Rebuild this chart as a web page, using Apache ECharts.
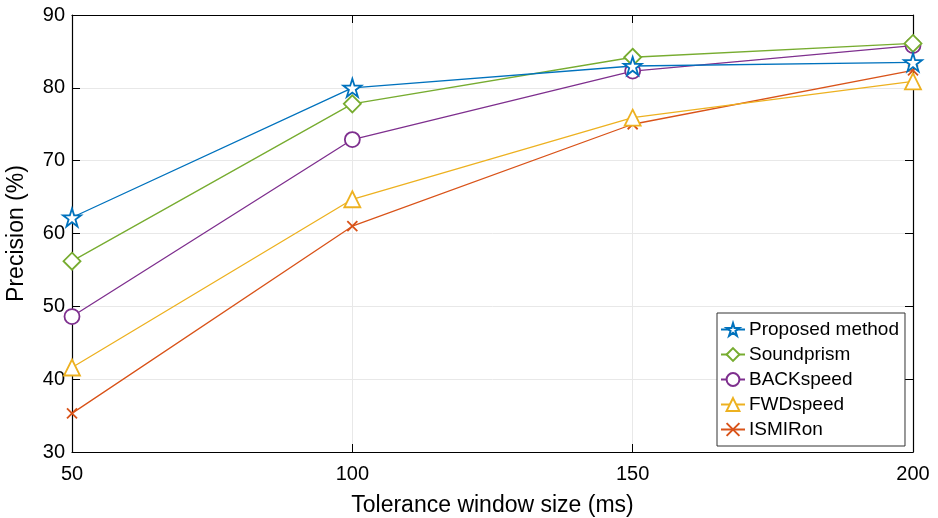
<!DOCTYPE html>
<html>
<head>
<meta charset="utf-8">
<script src="https://cdn.jsdelivr.net/npm/echarts@6/dist/echarts.min.js"></script>
<style>
  html, body { margin: 0; padding: 0; background: #fff; }
  #chart { width: 938px; height: 518px; }
</style>
</head>
<body>
<div id="chart"></div>
<script>
// data
const windowSizes = [50, 100, 150, 200]
const proposed = [62.2, 80.0, 83.0, 83.5]
const soundprism = [56.2, 77.8, 84.2, 86.1]
const backSpeed = [48.6, 72.9, 82.3, 85.8]
const fwdSpeed = [41.6, 64.7, 75.9, 80.9]
const ismiron = [35.3, 61.0, 75.0, 82.4]

const STAR = 'path://M50,0 L61.8,36.2 L100,36.2 L69.1,58.6 L80.9,95.1 L50,72.6 L19.1,95.1 L30.9,58.6 L0,36.2 L38.2,36.2 Z'
const CROSS = 'path://M0,0 L100,100 M100,0 L0,100'
const FONT = 'Liberation Sans, Arial, sans-serif'

const chart = echarts.init(document.getElementById('chart'))

const makeSeries = (name, values, color, symbol, size) => ({
  name: name,
  type: 'line',
  data: windowSizes.map((x, i) => [x, values[i]]),
  symbol: symbol,
  symbolSize: size,
  showSymbol: true,
  lineStyle: { color: color, width: 1.3 },
  itemStyle: { color: symbol === CROSS ? color : '#fff', borderColor: color, borderWidth: 1.8 },
  emphasis: { disabled: true },
  animation: false
})

chart.setOption({
  backgroundColor: '#fff',
  textStyle: { fontFamily: FONT },
  grid: { left: 72, right: 25, top: 15, bottom: 66, outerBoundsMode: 'none', containLabel: false },
  legend: {
    orient: 'vertical',
    left: 717,
    top: 313,
    padding: [7, 6, 7, 3],
    itemWidth: 24,
    itemHeight: 16,
    itemGap: 6,
    backgroundColor: '#fff',
    borderColor: '#333',
    borderWidth: 1,
    textStyle: { fontSize: 19, color: '#000', fontFamily: FONT, padding: [0, 0, 0, -1] },
    data: ['Proposed method', 'Soundprism', 'BACKspeed', 'FWDspeed', 'ISMIRon']
  },
  xAxis: [
    {
      type: 'value',
      min: 50,
      max: 200,
      interval: 50,
      name: 'Tolerance window size (ms)',
      nameLocation: 'middle',
      nameGap: 42,
      nameTextStyle: { fontSize: 23, color: '#000', fontFamily: FONT },
      axisLine: { lineStyle: { color: '#000', width: 1.2 } },
      axisTick: { inside: true, length: 8, lineStyle: { color: '#000' } },
      axisLabel: { fontSize: 20, color: '#000', margin: 12, fontFamily: FONT },
      splitLine: { show: true, lineStyle: { color: '#e8e8e8', width: 1 } }
    },
    {
      type: 'value',
      position: 'top',
      min: 50,
      max: 200,
      interval: 50,
      axisLine: { show: true, lineStyle: { color: '#000', width: 1.2 } },
      axisTick: { show: true, inside: true, length: 8, lineStyle: { color: '#000' } },
      axisLabel: { show: false },
      splitLine: { show: false }
    }
  ],
  yAxis: [
    {
      type: 'value',
      min: 30,
      max: 90,
      interval: 10,
      name: 'Precision (%)',
      nameLocation: 'middle',
      nameGap: 44,
      nameTextStyle: { fontSize: 23, color: '#000', fontFamily: FONT },
      axisLine: { show: true, lineStyle: { color: '#000', width: 1.2 } },
      axisTick: { show: true, inside: true, length: 8, lineStyle: { color: '#000' } },
      axisLabel: { fontSize: 20, color: '#000', margin: 7, fontFamily: FONT },
      splitLine: { show: true, lineStyle: { color: '#e8e8e8', width: 1 } }
    },
    {
      type: 'value',
      position: 'right',
      min: 30,
      max: 90,
      interval: 10,
      axisLine: { show: true, lineStyle: { color: '#000', width: 1.2 } },
      axisTick: { show: true, inside: true, length: 8, lineStyle: { color: '#000' } },
      axisLabel: { show: false },
      splitLine: { show: false }
    }
  ],
  series: [
    makeSeries('ISMIRon', ismiron, '#D95319', CROSS, 10),
    makeSeries('FWDspeed', fwdSpeed, '#EDB120', 'triangle', 16),
    makeSeries('BACKspeed', backSpeed, '#7E2F8E', 'circle', 15),
    makeSeries('Soundprism', soundprism, '#77AC30', 'diamond', 17),
    makeSeries('Proposed method', proposed, '#0072BD', STAR, 18)
  ]
})
</script>
</body>
</html>
